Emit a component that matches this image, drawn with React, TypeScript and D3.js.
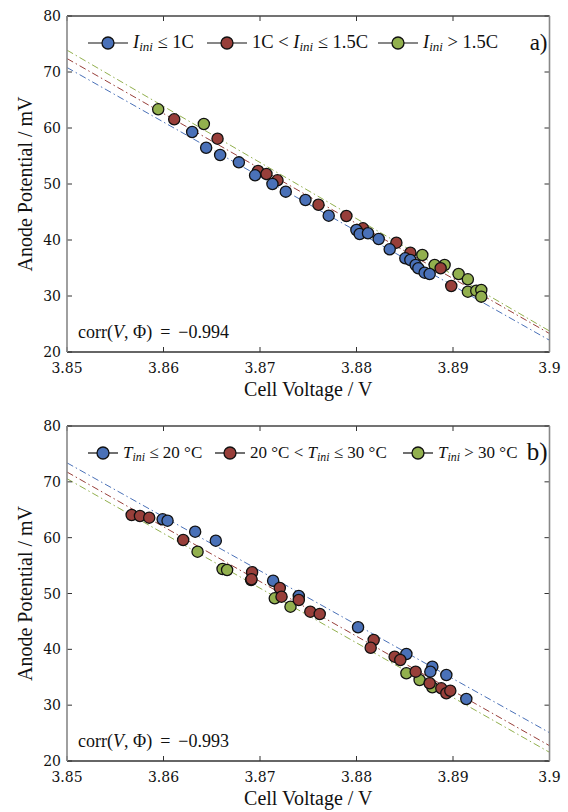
import React from "react";
import * as d3 from "d3";

// ---------- data (top panel, a) ----------
const topBlue: [number, number][] = [
  [3.86297, 59.29], [3.86442, 56.48], [3.86587, 55.18], [3.86781, 53.87], [3.86949, 51.55],
  [3.87129, 50.0], [3.87267, 48.63], [3.87471, 47.14], [3.87712, 44.34], [3.87999, 41.79],
  [3.88033, 41.07], [3.88119, 41.2], [3.8823, 40.18], [3.88344, 38.34], [3.88506, 36.73],
  [3.88558, 36.43], [3.88613, 35.54], [3.88641, 34.95], [3.88706, 34.16], [3.88758, 33.93],
];
const topRed: [number, number][] = [
  [3.86111, 61.55], [3.8656, 58.09], [3.8698, 52.32], [3.87067, 51.79], [3.87181, 50.66],
  [3.87606, 46.3], [3.87895, 44.29], [3.88067, 42.09], [3.88413, 39.52], [3.88558, 37.73],
  [3.88872, 34.95], [3.88982, 31.79],
];
const topGreen: [number, number][] = [
  [3.85945, 63.34], [3.86418, 60.71], [3.88682, 37.32], [3.8881, 35.54], [3.88913, 35.54],
  [3.89058, 33.93], [3.89154, 32.98], [3.89154, 30.77], [3.89241, 30.95], [3.89293, 31.07],
  [3.89293, 29.88],
];
// fitted lines: value at 3.85 and at 3.90 (blue, red, green)
const topFitStart = [70.8, 72.4, 73.9];
const topFitEnd = [22.1, 23.3, 23.75];
const topLegend = [
  ["", "I", "ini", " ≤ 1C"],
  ["1C < ", "I", "ini", " ≤ 1.5C"],
  ["", "I", "ini", " > 1.5C"],
];
const topCorr = "−0.994";

// ---------- data (bottom panel, b) ----------
const botBlue: [number, number][] = [
  [3.85991, 63.29], [3.86042, 63.04], [3.86328, 61.07], [3.86542, 59.46], [3.87136, 52.29],
  [3.87402, 49.55], [3.88016, 43.95], [3.88517, 39.17], [3.88786, 36.89], [3.88765, 36.0],
  [3.88931, 35.4], [3.89138, 31.1],
];
const botRed: [number, number][] = [
  [3.8567, 64.06], [3.85756, 63.88], [3.85852, 63.58], [3.86204, 59.58], [3.86918, 53.8],
  [3.86912, 52.54], [3.87205, 50.99], [3.87223, 49.43], [3.87402, 48.84], [3.87521, 46.74],
  [3.87619, 46.33], [3.88178, 41.67], [3.88147, 40.29], [3.88395, 38.68], [3.88454, 38.09],
  [3.88613, 36.0], [3.88758, 33.92], [3.88879, 33.02], [3.88931, 32.13], [3.88972, 32.59],
];
const botGreen: [number, number][] = [
  [3.86353, 57.49], [3.86612, 54.39], [3.86659, 54.21], [3.86908, 52.42], [3.87153, 49.14],
  [3.87316, 47.64], [3.88517, 35.71], [3.88654, 34.51], [3.88786, 33.2],
];
const botFitStart = [73.4, 71.76, 70.56];
const botFitEnd = [25.07, 22.74, 21.56];
const botLegend = [
  ["", "T", "ini", " ≤ 20 °C"],
  ["20 °C < ", "T", "ini", " ≤ 30 °C"],
  ["", "T", "ini", " > 30 °C"],
];
const botCorr = "−0.993";

const xTicks = [3.85, 3.86, 3.87, 3.88, 3.89, 3.9];
const yTicks = [20, 30, 40, 50, 60, 70, 80];
const xDomain: [number, number] = [3.85, 3.9];
const yDomain: [number, number] = [20, 80];

const COLORS = ["#4a71b8", "#983f3a", "#92b04e"];
const SERIF = "Liberation Serif, Times New Roman, serif";
const TICKFONT = "DejaVu Serif, serif";

type PanelProps = {
  top: number;
  bottom: number;
  series: [number, number][][];
  order: number[];
  fitStart: number[];
  fitEnd: number[];
  legend: string[][];
  legendX: number[];
  legendLine: number;
  legendY: number;
  legendSize: number;
  corr: string;
  tag: string;
  tagY: number;
  tagSize: number;
};

function fmtX(v: number) {
  return v === 3.9 ? "3.9" : d3.format(".2f")(v);
}

function Panel(p: PanelProps) {
  const left = 67;
  const right = 549.5;
  const x = d3.scaleLinear().domain(xDomain).range([left, right]);
  const y = d3.scaleLinear().domain(yDomain).range([p.bottom, p.top]);
  const tl = 5;
  return (
    <g>
      {p.fitStart.map((s, i) => (
        <line
          key={"f" + i}
          x1={x(xDomain[0])}
          y1={y(s)}
          x2={x(xDomain[1])}
          y2={y(p.fitEnd[i])}
          stroke={COLORS[i]}
          strokeWidth={1}
          strokeDasharray="7,3,1.5,3"
        />
      ))}
      {p.order.map((si) =>
        p.series[si].map((d, j) => (
          <circle
            key={si + "-" + j}
            cx={x(d[0])}
            cy={y(d[1])}
            r={5.6}
            fill={COLORS[si]}
            stroke="#111"
            strokeWidth={1.3}
          />
        ))
      )}
      {xTicks.map((t) => (
        <g key={"xt" + t}>
          <line x1={x(t)} x2={x(t)} y1={p.bottom} y2={p.bottom - tl} stroke="#333" strokeWidth={1} />
          <line x1={x(t)} x2={x(t)} y1={p.top} y2={p.top + tl} stroke="#333" strokeWidth={1} />
          <text
            x={x(t)}
            y={p.bottom + 21}
            textAnchor="middle"
            style={{ fontFamily: TICKFONT }}
            fontSize={14}
            fill="#111"
          >
            {fmtX(t)}
          </text>
        </g>
      ))}
      {yTicks.map((t) => (
        <g key={"yt" + t}>
          <line x1={left} x2={left + tl} y1={y(t)} y2={y(t)} stroke="#333" strokeWidth={1} />
          <line x1={right} x2={right - tl} y1={y(t)} y2={y(t)} stroke="#333" strokeWidth={1} />
          <text
            x={left - 6}
            y={y(t) + 5}
            textAnchor="end"
            style={{ fontFamily: TICKFONT }}
            fontSize={14}
            fill="#111"
          >
            {t}
          </text>
        </g>
      ))}
      <line x1={left} x2={right} y1={p.top} y2={p.top} stroke="#444" strokeWidth={1.4} />
      <line x1={left} x2={right} y1={p.bottom} y2={p.bottom} stroke="#333" strokeWidth={1.4} />
      <line x1={left} x2={left} y1={p.top} y2={p.bottom} stroke="#888" strokeWidth={1.6} />
      <line x1={right} x2={right} y1={p.top} y2={p.bottom} stroke="#888" strokeWidth={1.6} />
      {p.legend.map((lab, i) => {
        const x0 = p.legendX[i];
        const ly = p.legendY;
        return (
          <g key={"lg" + i}>
            <line x1={x0} x2={x0 + p.legendLine} y1={ly} y2={ly} stroke="#111" strokeWidth={1.2} />
            <circle cx={x0 + p.legendLine / 2} cy={ly} r={6} fill={COLORS[i]} stroke="#111" strokeWidth={1.3} />
            <text x={x0 + p.legendLine + 5} y={ly + 5} style={{ fontFamily: SERIF }} fontSize={p.legendSize} fill="#111">
              <tspan>{lab[0]}</tspan>
              <tspan fontStyle="italic">{lab[1]}</tspan>
              <tspan fontStyle="italic" fontSize={p.legendSize * 0.7} dy={3}>{lab[2]}</tspan>
              <tspan dy={-3}>{lab[3]}</tspan>
            </text>
          </g>
        );
      })}
      <text x={right - 2} y={p.tagY} textAnchor="end" style={{ fontFamily: SERIF }} fontSize={p.tagSize} fill="#111">
        {p.tag}
      </text>
      <text x={78} y={p.bottom - 14} style={{ fontFamily: SERIF }} fontSize={18} fill="#111">
        <tspan>corr(</tspan>
        <tspan fontStyle="italic">V</tspan>
        <tspan>, Φ)</tspan>
        <tspan dx={8}>=</tspan>
        <tspan dx={8}>{p.corr}</tspan>
      </text>
      <text
        x={(left + right) / 2}
        y={p.bottom + 44}
        textAnchor="middle"
        style={{ fontFamily: SERIF }}
        fontSize={20}
        fill="#111"
      >
        Cell Voltage / V
      </text>
      <text
        transform={`translate(32,${(p.top + p.bottom) / 2}) rotate(-90)`}
        textAnchor="middle"
        style={{ fontFamily: SERIF }}
        fontSize={20}
        fill="#111"
      >
        Anode Potential / mV
      </text>
    </g>
  );
}

export default function App() {
  return (
    <svg
      width={568}
      height={812}
      style={{ position: "absolute", left: 0, top: 0, background: "#fff" }}
    >
      <rect width={568} height={812} fill="#fff" />
      <Panel
        top={16}
        bottom={352}
        series={[topBlue, topRed, topGreen]}
        order={[2, 1, 0]}
        fitStart={topFitStart}
        fitEnd={topFitEnd}
        legend={topLegend}
        legendX={[88, 207, 378]}
        legendLine={40}
        legendY={43}
        legendSize={18.5}
        corr={topCorr}
        tag="a)"
        tagY={50}
        tagSize={23}
      />
      <Panel
        top={426}
        bottom={761}
        series={[botBlue, botRed, botGreen]}
        order={[0, 2, 1]}
        fitStart={botFitStart}
        fitEnd={botFitEnd}
        legend={botLegend}
        legendX={[88, 215, 403]}
        legendLine={30}
        legendY={453}
        legendSize={17}
        corr={botCorr}
        tag="b)"
        tagY={460}
        tagSize={25}
      />
    </svg>
  );
}
